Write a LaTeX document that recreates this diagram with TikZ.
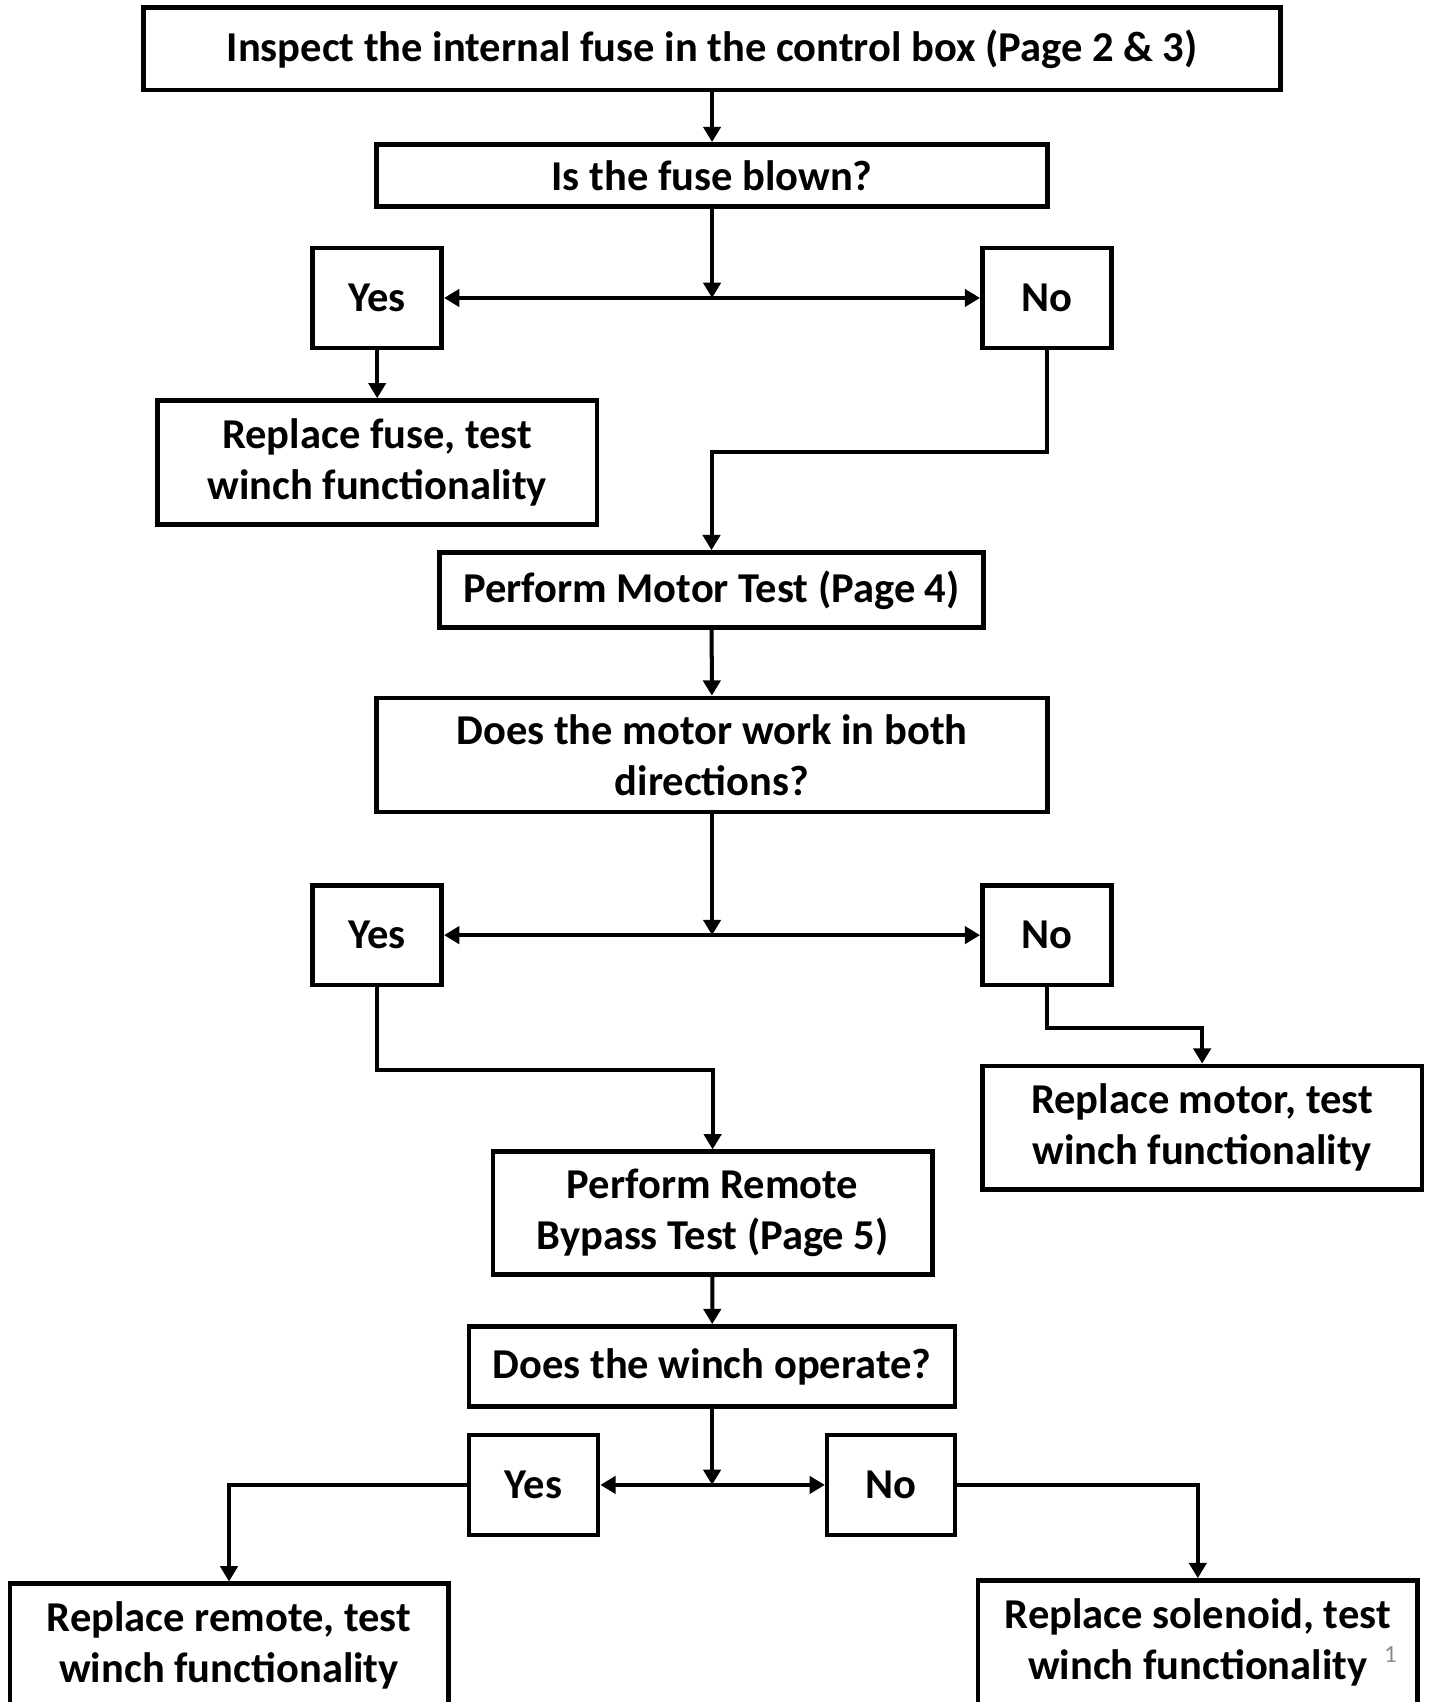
\documentclass[tikz,border=0pt]{standalone}
\usepackage{fontspec}
\setmainfont{Carlito}
\usetikzlibrary{arrows.meta}
\usetikzlibrary{positioning}

\tikzset{
  box/.style={draw=black,line width=2.4pt,fill=white,align=center,inner sep=0pt,
    font=\bfseries\fontsize{22.3}{26.7}\selectfont},
  arr/.style={line width=2.1pt,-{Triangle[length=8pt,width=9pt]}},
  darr/.style={line width=2.1pt,{Triangle[length=8pt,width=9pt]}-{Triangle[length=8pt,width=9pt]}}
}

\begin{document}
\begin{tikzpicture}[x=0.02cm,y=-0.02cm]
\useasboundingbox (0,0) rectangle (1317,1568);
\fill[white] (0,0) rectangle (1317,1568);
\clip (0,0) rectangle (1317,1568);

\node[box,minimum width=20.96cm,minimum height=1.52cm] (top) at (656,45) {Inspect the internal fuse in the control box (Page 2 \& 3)};
\node[box,minimum width=12.36cm,minimum height=1.14cm] (fuse) at (656,161.5) {Is the fuse blown?};
\node[box,minimum width=2.38cm,minimum height=1.84cm] (yesA) at (347.5,274.5) {Yes};
\node[box,minimum width=2.38cm,minimum height=1.84cm] (noA) at (964.5,274.5) {No};
\coordinate (jA) at (656,274.5);
\node[box,minimum width=8.1cm,minimum height=2.28cm] (repfuse) at (347.5,426) {Replace fuse, test\\winch functionality};

\node[box,minimum width=10.02cm,minimum height=1.38cm] (motortest) at (655.5,543.5) {Perform Motor Test (Page 4)};
\node[box,minimum width=12.36cm,minimum height=2.1cm] (motorq) at (656,695.5) {Does the motor work in both\\directions?};
\node[box,minimum width=2.38cm,minimum height=1.84cm] (yesB) at (347.5,861.5) {Yes};
\node[box,minimum width=2.38cm,minimum height=1.84cm] (noB) at (964.5,861.5) {No};
\coordinate (jB) at (656,861.5);
\node[box,minimum width=8.1cm,minimum height=2.28cm] (repmotor) at (1107.5,1039) {Replace motor, test\\winch functionality};

\node[box,minimum width=8.1cm,minimum height=2.26cm] (bypass) at (656.5,1117.5) {Perform Remote\\Bypass Test (Page 5)};
\node[box,minimum width=8.96cm,minimum height=1.48cm] (winchq) at (656,1259) {Does the winch operate?};
\node[box,minimum width=2.38cm,minimum height=1.84cm] (yesC) at (491.5,1368) {Yes};
\node[box,minimum width=2.36cm,minimum height=1.84cm] (noC) at (821,1368) {No};
\coordinate (jC) at (656,1368);
\node[box,minimum width=8.08cm,minimum height=2.28cm] (repremote) at (211,1516) {Replace remote, test\\winch functionality};
\node[box,minimum width=8.1cm,minimum height=2.28cm] (repsolenoid) at (1103.5,1513) {Replace solenoid, test\\winch functionality};

\node[text=black!45,font=\fontsize{13}{15}\selectfont] (pagenum) at (1281,1524) {1};

% first question
\draw[arr] (top) -- (fuse);
\draw[arr] (fuse) -- (jA);
\draw[darr] (yesA) -- (noA);
\draw[arr] (yesA) -- (repfuse);
\draw[arr] (noA.south) -- ++(0,94) -| (motortest.north);

% motor
\draw[arr] (motortest) -- (motorq);
\draw[arr] (motorq) -- (jB);
\draw[darr] (yesB) -- (noB);
\draw[arr] (yesB.south) -- ++(0,76) -| (bypass.north);
\draw[arr] (noB.south) -- ++(0,37) -| (repmotor.north);

% remote bypass
\draw[arr] (bypass) -- (winchq);
\draw[arr] (winchq) -- (jC);
\draw[darr] (yesC) -- (noC);
\draw[arr] (yesC.west) -| (repremote.north);
\draw[arr] (noC.east) -| (repsolenoid.north);

\end{tikzpicture}
\end{document}
